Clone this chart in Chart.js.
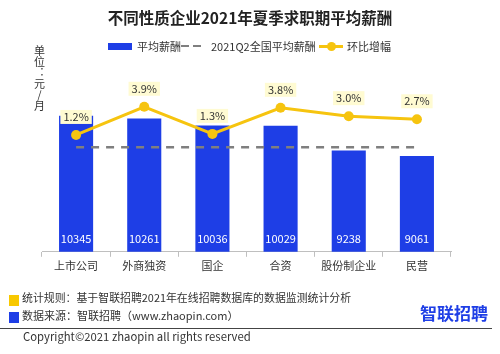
<!DOCTYPE html>
<html>
<head>
<meta charset="utf-8">
<script src="https://cdn.jsdelivr.net/npm/chart.js@4.4.1/dist/chart.umd.min.js"></script>
<style>
  body { margin: 0; background: #fff; font-family: "Noto Sans CJK SC", sans-serif; color: #333; }
  #wrap { position: relative; width: 500px; height: 354px; overflow: hidden; }
  #c { position: absolute; left: 0; top: 0; }
  .t { position: absolute; white-space: nowrap; line-height: 1; }
  .sym { position: absolute; }
</style>
</head>
<body>
<div id="wrap">
  <canvas id="c" width="500" height="354"></canvas>

  <div class="t" style="left:0;width:500px;text-align:center;top:10px;font-size:15.5px;font-weight:bold;color:#222">不同性质企业2021年夏季求职期平均薪酬</div>

  <!-- legend -->
  <div class="sym" style="left:108px;top:43px;width:24px;height:7px;background:#1e3ee6"></div>
  <div class="t" style="left:137px;top:40.5px;font-size:11px">平均薪酬</div>
  <div class="sym" style="left:181px;top:45px;width:8px;height:2px;background:#7f7f7f"></div>
  <div class="sym" style="left:193px;top:45px;width:8px;height:2px;background:#7f7f7f"></div>
  <div class="t" style="left:211px;top:40.5px;font-size:11px">2021Q2全国平均薪酬</div>
  <div class="sym" style="left:319px;top:45px;width:24px;height:3px;background:#f6c40f"></div>
  <div class="sym" style="left:326.5px;top:42px;width:9px;height:9px;border-radius:50%;background:#f6c40f"></div>
  <div class="t" style="left:347px;top:40.5px;font-size:11px">环比增幅</div>

  <!-- unit label -->
  <div class="t" style="left:33px;top:45px;font-size:11px;line-height:11.5px;writing-mode:vertical-rl;text-orientation:upright;color:#333">单位：元/月</div>

  <!-- footer -->
  <div class="sym" style="left:9px;top:295px;width:10px;height:11px;background:#f8c800"></div>
  <div class="t" style="left:22px;top:291.5px;font-size:10.9px">统计规则：基于智联招聘2021年在线招聘数据库的数据监测统计分析</div>
  <div class="sym" style="left:9px;top:312px;width:10px;height:11px;background:#1e3ee6"></div>
  <div class="t" style="left:22px;top:309.5px;font-size:11px">数据来源：智联招聘（www.zhaopin.com）</div>
  <div class="t" style="left:420px;top:303.5px;font-size:17px;font-weight:bold;color:#1e3ee6">智联招聘</div>
  <div class="sym" style="left:0;top:328px;width:492px;height:1px;background:#444"></div>
  <div class="t" style="left:23px;top:330.5px;font-size:11.3px">Copyright©2021 zhaopin all rights reserved</div>
</div>

<script>
const categories = ['上市公司', '外商独资', '国企', '合资', '股份制企业', '民营'];
const avgSalary = [10345, 10261, 10036, 10029, 9238, 9061];
const nationalAvgQ2 = [9340, 9340, 9340, 9340, 9340, 9340];
const momGrowth = [1.2, 3.9, 1.3, 3.8, 3.0, 2.7];

const BLUE = '#1e3ee6';
const YELLOW = '#f6c40f';
const FONT = '"Noto Sans CJK SC", sans-serif';

// value labels inside the bars and % labels above the points
const dataLabels = {
  id: 'dataLabels',
  afterDatasetsDraw(chart) {
    const ctx = chart.ctx;
    ctx.save();
    ctx.font = '11px ' + FONT;
    ctx.textAlign = 'center';
    ctx.textBaseline = 'middle';

    chart.getDatasetMeta(0).data.forEach((bar, i) => {
      ctx.fillStyle = '#ffffff';
      ctx.fillText(avgSalary[i], bar.x, chart.chartArea.bottom - 13);
    });

    chart.getDatasetMeta(2).data.forEach((pt, i) => {
      const txt = momGrowth[i].toFixed(1) + '%';
      const w = ctx.measureText(txt).width;
      const y = pt.y - 18;
      ctx.fillStyle = '#fffbd2';
      ctx.fillRect(pt.x - w / 2 - 3, y - 7, w + 6, 14);
      ctx.fillStyle = '#333';
      ctx.fillText(txt, pt.x, y);
    });
    ctx.restore();
  }
};

new Chart(document.getElementById('c'), {
  type: 'bar',
  data: {
    labels: categories,
    datasets: [
      {
        label: '平均薪酬',
        data: avgSalary,
        backgroundColor: BLUE,
        barPercentage: 0.5,
        categoryPercentage: 1,
        yAxisID: 'y',
        order: 3
      },
      {
        type: 'line',
        label: '2021Q2全国平均薪酬',
        data: nationalAvgQ2,
        borderColor: '#7f7f7f',
        borderDash: [8, 7],
        borderWidth: 2.5,
        pointRadius: 0,
        yAxisID: 'y',
        order: 2
      },
      {
        type: 'line',
        label: '环比增幅',
        data: momGrowth,
        borderColor: YELLOW,
        backgroundColor: YELLOW,
        borderWidth: 3,
        pointRadius: 5,
        pointBorderWidth: 0,
        pointBackgroundColor: YELLOW,
        tension: 0,
        yAxisID: 'y1',
        order: 1
      }
    ]
  },
  options: {
    responsive: false,
    devicePixelRatio: 1,
    animation: false,
    layout: { padding: { left: 42, right: 49, top: 64, bottom: 80 } },
    plugins: {
      legend: { display: false },
      tooltip: { enabled: false }
    },
    scales: {
      x: {
        grid: { drawOnChartArea: false, tickLength: 5, color: '#bfbfbf' },
        border: { color: '#bfbfbf' },
        ticks: { color: '#333', padding: 2, font: { size: 11, family: FONT } }
      },
      y: { display: false, min: 6000, max: 12000 },
      y1: { display: false, min: -10, max: 8 }
    }
  },
  plugins: [dataLabels]
});
</script>
</body>
</html>
